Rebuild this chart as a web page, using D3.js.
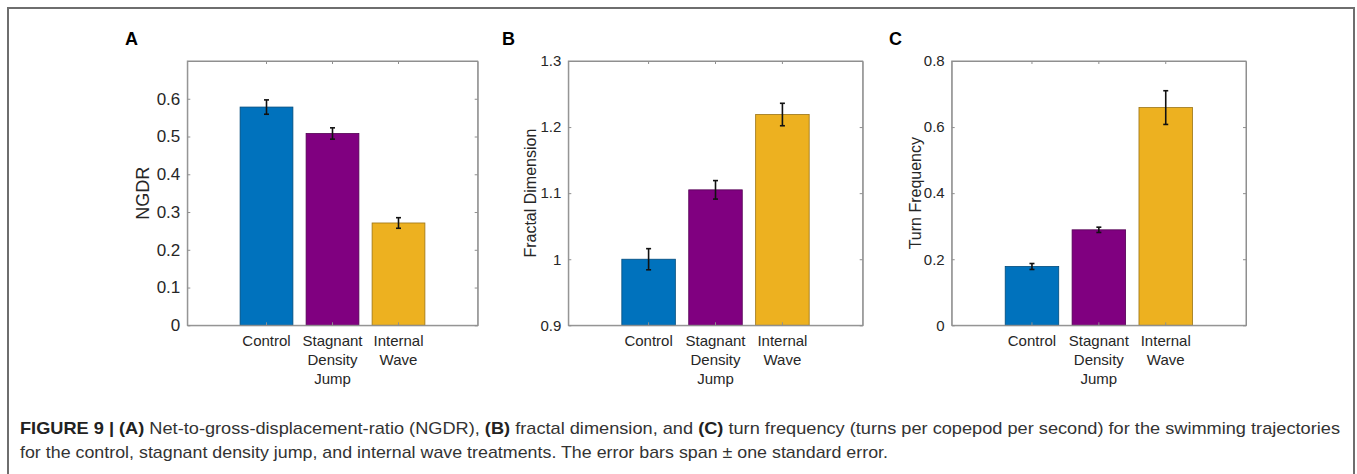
<!DOCTYPE html>
<html>
<head>
<meta charset="utf-8">
<script src="https://cdn.jsdelivr.net/npm/d3@7"></script>
<style>
  body { margin: 0; background: #fff; }
  svg text { font-family: "Liberation Sans", Arial, sans-serif; }
</style>
</head>
<body>
<svg id="fig" width="1357" height="474"></svg>
<script>
// ---- data ----
const categories = [["Control"], ["Stagnant", "Density", "Jump"], ["Internal", "Wave"]];
const barColors = ["#0072bd", "#800080", "#edb120"];

const ngdr = [0.578, 0.508, 0.271];
const ngdrErr = [0.019, 0.015, 0.014];
const ngdrTicks = [0, 0.1, 0.2, 0.3, 0.4, 0.5, 0.6];

const fractal = [1.000, 1.105, 1.219];
const fractalErr = [0.016, 0.014, 0.017];
const fractalTicks = [0.9, 1.0, 1.1, 1.2, 1.3];

const turnFreq = [0.178, 0.289, 0.659];
const turnFreqErr = [0.009, 0.008, 0.051];
const turnFreqTicks = [0, 0.2, 0.4, 0.6, 0.8];

const captionLine1 = [
  ["FIGURE 9 | ", true], ["(A)", true], [" Net-to-gross-displacement-ratio (NGDR), ", false],
  ["(B)", true], [" fractal dimension, and ", false], ["(C)", true],
  [" turn frequency (turns per copepod per second) for the swimming trajectories", false]
];
const captionLine2 = [
  ["for the control, stagnant density jump, and internal wave treatments. The error bars span \u00b1 one standard error.", false]
];

const svg = d3.select("#fig");

// outer frame (bottom edge falls outside the picture)
svg.append("path")
  .attr("d", "M8,474 V8 H1354 V474")
  .attr("fill", "none")
  .attr("stroke", "#6e6e6e")
  .attr("stroke-width", 2);

const plotTop = 61, plotBottom = 325.3;

const panels = [
  { letter: "A", lx: 125, left: 187.3, width: 290.4, values: ngdr, errs: ngdrErr, ticks: ngdrTicks,
    domain: [0, 0.7], label: "NGDR", labelX: 143, labelSize: 18, tickSize: 17 },
  { letter: "B", lx: 502, left: 568.3, width: 294.4, values: fractal, errs: fractalErr, ticks: fractalTicks,
    domain: [0.9, 1.3], label: "Fractal Dimension", labelX: 530, labelSize: 16, tickSize: 15 },
  { letter: "C", lx: 889, left: 951.7, width: 294.3, values: turnFreq, errs: turnFreqErr, ticks: turnFreqTicks,
    domain: [0, 0.8], label: "Turn Frequency", labelX: 915, labelSize: 16, tickSize: 15 }
];

panels.forEach(p => {
  const g = svg.append("g");

  const x = d3.scaleBand()
    .domain(d3.range(categories.length))
    .range([p.left, p.left + p.width])
    .paddingInner(0.2)
    .paddingOuter(0.8);

  const y = d3.scaleLinear()
    .domain(p.domain)
    .range([plotBottom, plotTop]);

  // bars
  g.append("g")
    .selectAll("rect")
    .data(p.values)
    .join("rect")
    .attr("x", (d, i) => x(i))
    .attr("y", d => y(d))
    .attr("width", x.bandwidth())
    .attr("height", d => y(p.domain[0]) - y(d))
    .attr("fill", (d, i) => barColors[i])
    .attr("stroke", (d, i) => d3.color(barColors[i]).darker(1.2))
    .attr("stroke-width", 0.8);

  // error bars
  const eb = g.append("g")
    .selectAll("g")
    .data(p.values)
    .join("g")
    .attr("stroke", "#111")
    .attr("stroke-width", 1.6);
  const cx = i => x(i) + x.bandwidth() / 2;
  eb.append("line")
    .attr("x1", (d, i) => cx(i)).attr("x2", (d, i) => cx(i))
    .attr("y1", (d, i) => y(d - p.errs[i])).attr("y2", (d, i) => y(d + p.errs[i]));
  eb.append("line")
    .attr("x1", (d, i) => cx(i) - 2.5).attr("x2", (d, i) => cx(i) + 2.5)
    .attr("y1", (d, i) => y(d + p.errs[i])).attr("y2", (d, i) => y(d + p.errs[i]));
  eb.append("line")
    .attr("x1", (d, i) => cx(i) - 2.5).attr("x2", (d, i) => cx(i) + 2.5)
    .attr("y1", (d, i) => y(d - p.errs[i])).attr("y2", (d, i) => y(d - p.errs[i]));

  // axes: ticks point inward, mirrored on all four sides
  const fmt = d => d3.format("~g")(+d.toFixed(2));
  const yLeft = g.append("g")
    .attr("transform", `translate(${p.left},0)`)
    .call(d3.axisLeft(y).tickValues(p.ticks).tickFormat(fmt).tickSizeInner(-3).tickSizeOuter(0).tickPadding(7));
  yLeft.selectAll("text")
    .style("font-size", p.tickSize + "px")
    .attr("fill", "#262626");

  g.append("g")
    .attr("transform", `translate(${p.left + p.width},0)`)
    .call(d3.axisRight(y).tickValues(p.ticks).tickFormat("").tickSizeInner(-3).tickSizeOuter(0));

  g.append("g")
    .attr("transform", `translate(0,${plotTop})`)
    .call(d3.axisTop(x).tickFormat("").tickSizeInner(-3).tickSizeOuter(0));

  g.append("g")
    .attr("transform", `translate(0,${plotBottom})`)
    .call(d3.axisBottom(x).tickFormat("").tickSizeInner(-3).tickSizeOuter(0));

  g.selectAll(".domain, .tick line")
    .attr("stroke", "#8f8f8f");

  // box round the plot area
  g.append("rect")
    .attr("x", p.left).attr("y", plotTop)
    .attr("width", p.width).attr("height", plotBottom - plotTop)
    .attr("fill", "none")
    .attr("stroke", "#8f8f8f")
    .attr("stroke-width", 1);

  // category labels (multi-line)
  const lab = g.append("g")
    .selectAll("text")
    .data(categories)
    .join("text")
    .attr("text-anchor", "middle")
    .attr("fill", "#262626")
    .style("font-size", "15px");
  lab.selectAll("tspan")
    .data((d, i) => d.map(s => ({ s, i })))
    .join("tspan")
    .attr("x", d => cx(d.i))
    .attr("y", (d, j) => 346 + j * 19)
    .text(d => d.s);

  // y label
  g.append("text")
    .attr("transform", `translate(${p.labelX},${(plotTop + plotBottom) / 2}) rotate(-90)`)
    .attr("text-anchor", "middle")
    .attr("dominant-baseline", "central")
    .attr("fill", "#262626")
    .style("font-size", p.labelSize + "px")
    .text(p.label);

  // panel letter
  g.append("text")
    .attr("x", p.lx)
    .attr("y", 45)
    .style("font-size", "18px")
    .style("font-weight", "bold")
    .attr("fill", "#000")
    .text(p.letter);
});

// caption: a condensed face, squeezed to the width of the original lines
function captionLine(parts, yPos, len) {
  const t = svg.append("text")
    .attr("x", 20)
    .attr("y", yPos)
    .style("font-size", "17px")
    .attr("fill", "#333")
    .attr("textLength", len)
    .attr("lengthAdjust", "spacingAndGlyphs");
  parts.forEach(([s, bold]) => {
    t.append("tspan")
      .style("font-weight", bold ? "bold" : "normal")
      .attr("fill", bold ? "#222" : "#333")
      .text(s);
  });
}
captionLine(captionLine1, 434, 1320);
captionLine(captionLine2, 458, 868);
</script>
</body>
</html>
